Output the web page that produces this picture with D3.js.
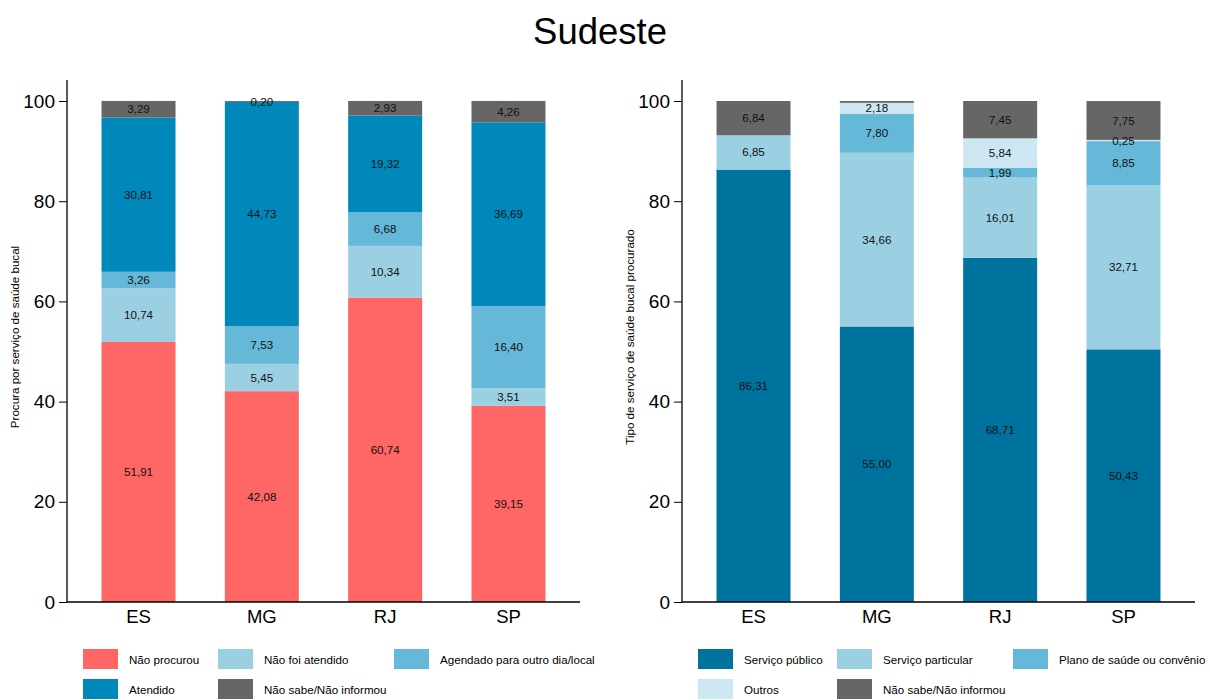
<!DOCTYPE html>
<html><head><meta charset="utf-8">
<script src="https://cdn.jsdelivr.net/npm/d3@7"></script>
<style>body{margin:0;background:#fff;} text{font-family:"Liberation Sans",Arial,sans-serif;}</style>
</head><body><svg id="c" width="1210" height="700"></svg>
<script>
const states = ["ES","MG","RJ","SP"];
const yTicks = [0,20,40,60,80,100];

const leftSeries = ["Não procurou","Não foi atendido","Agendado para outro dia/local","Atendido","Não sabe/Não informou"];
const leftColors = ["#FF6666","#9BD0E3","#65B8D8","#0088BB","#666666"];
const naoProcurou = [51.91,42.08,60.74,39.15];
const naoFoiAtendido = [10.74,5.45,10.34,3.51];
const agendado = [3.26,7.53,6.68,16.40];
const atendido = [30.81,44.73,19.32,36.69];
const naoSabeL = [3.29,0.20,2.93,4.26];

const rightSeries = ["Serviço público","Serviço particular","Plano de saúde ou convênio","Outros","Não sabe/Não informou"];
const rightColors = ["#00729E","#9BD0E3","#65B8D8","#CCE7F2","#666666"];
const publico = [86.31,55.00,68.71,50.43];
const particular = [6.85,34.66,16.01,32.71];
const plano = [0,7.80,1.99,8.85];
const outros = [0,2.18,5.84,0.25];
const naoSabeR = [6.84,0.36,7.45,7.75];
const naoSabeRLabels = ["6,84",null,"7,45","7,75"];

const svg = d3.select("#c");
svg.append("text").attr("x",600).attr("y",44).attr("text-anchor","middle")
  .attr("font-size",36.5).attr("fill","#000").text("Sudeste");

const SMALL = 11.6;

function panel(ox, seriesNames, colors, arrays, labelOverrides, yLabel, yLabelY, legendX){
  const x = d3.scaleBand().domain(states).range([ox+67, ox+580]).paddingInner(0.4).paddingOuter(0.28);
  const y = d3.scaleLinear().domain([0,100]).range([602,101]);
  const g = svg.append("g");
  const rows = states.map((s,i)=>{const r={state:s}; seriesNames.forEach((n,k)=>r[n]=arrays[k][i]); return r;});
  const stack = d3.stack().keys(seriesNames)(rows);
  stack.forEach((layer,k)=>{
    layer.forEach((d,i)=>{
      const v = d[1]-d[0];
      if (v<=0) return;
      g.append("rect").attr("x",x(states[i])).attr("width",x.bandwidth())
        .attr("y",y(d[1])).attr("height",y(d[0])-y(d[1])).attr("fill",colors[k]);
    });
  });
  stack.forEach((layer,k)=>{
    layer.forEach((d,i)=>{
      const v = d[1]-d[0];
      if (v<=0) return;
      let lab = v.toFixed(2).replace(".",",");
      const ov = labelOverrides[k];
      if (ov){ if (ov[i]===null) return; lab = ov[i]; }
      g.append("text").attr("x",x(states[i])+x.bandwidth()/2).attr("y",y((d[0]+d[1])/2))
        .attr("dy","0.35em").attr("text-anchor","middle").attr("font-size",SMALL).attr("fill","#111").text(lab);
    });
  });
  // y axis
  const ya = g.append("g").attr("transform",`translate(${ox+67},0)`)
    .call(d3.axisLeft(y).tickValues(yTicks).tickSize(8).tickPadding(4));
  ya.select(".domain").attr("d",`M0,80V602`).attr("stroke","#000").attr("stroke-width",1.3);
  ya.selectAll(".tick line").attr("stroke","#000");
  ya.selectAll(".tick text").attr("font-size",19).attr("fill","#000").attr("font-family","Liberation Sans, Arial, sans-serif");
  // x axis
  const xa = g.append("g").attr("transform",`translate(0,602)`)
    .call(d3.axisBottom(x).tickSize(0).tickPadding(8));
  xa.select(".domain").attr("d",`M${ox+67},0H${ox+580}`).attr("stroke","#000").attr("stroke-width",1.3);
  xa.selectAll(".tick text").attr("font-size",18.5).attr("fill","#000").attr("font-family","Liberation Sans, Arial, sans-serif");
  // y label
  g.append("text").attr("transform",`translate(${ox+19},${yLabelY}) rotate(-90)`)
    .attr("text-anchor","middle").attr("font-size",SMALL).attr("fill","#000").text(yLabel);
  // legend
  seriesNames.forEach((n,k)=>{
    const col = k%3, row = Math.floor(k/3);
    const lx = ox + legendX[col], ly = 649 + row*30;
    g.append("rect").attr("x",lx).attr("y",ly).attr("width",35).attr("height",20).attr("fill",colors[k]);
    g.append("text").attr("x",lx+46).attr("y",ly+14.5).attr("font-size",SMALL).attr("fill","#000").text(n);
  });
}

panel(0, leftSeries, leftColors, [naoProcurou,naoFoiAtendido,agendado,atendido,naoSabeL],
  [null,null,null,null,null], "Procura por serviço de saúde bucal", 337, [83,218,394]);
panel(615, rightSeries, rightColors, [publico,particular,plano,outros,naoSabeR],
  [null,null,null,null,naoSabeRLabels], "Tipo de serviço de saúde bucal procurado", 337, [83,222,398]);
</script></body></html>
